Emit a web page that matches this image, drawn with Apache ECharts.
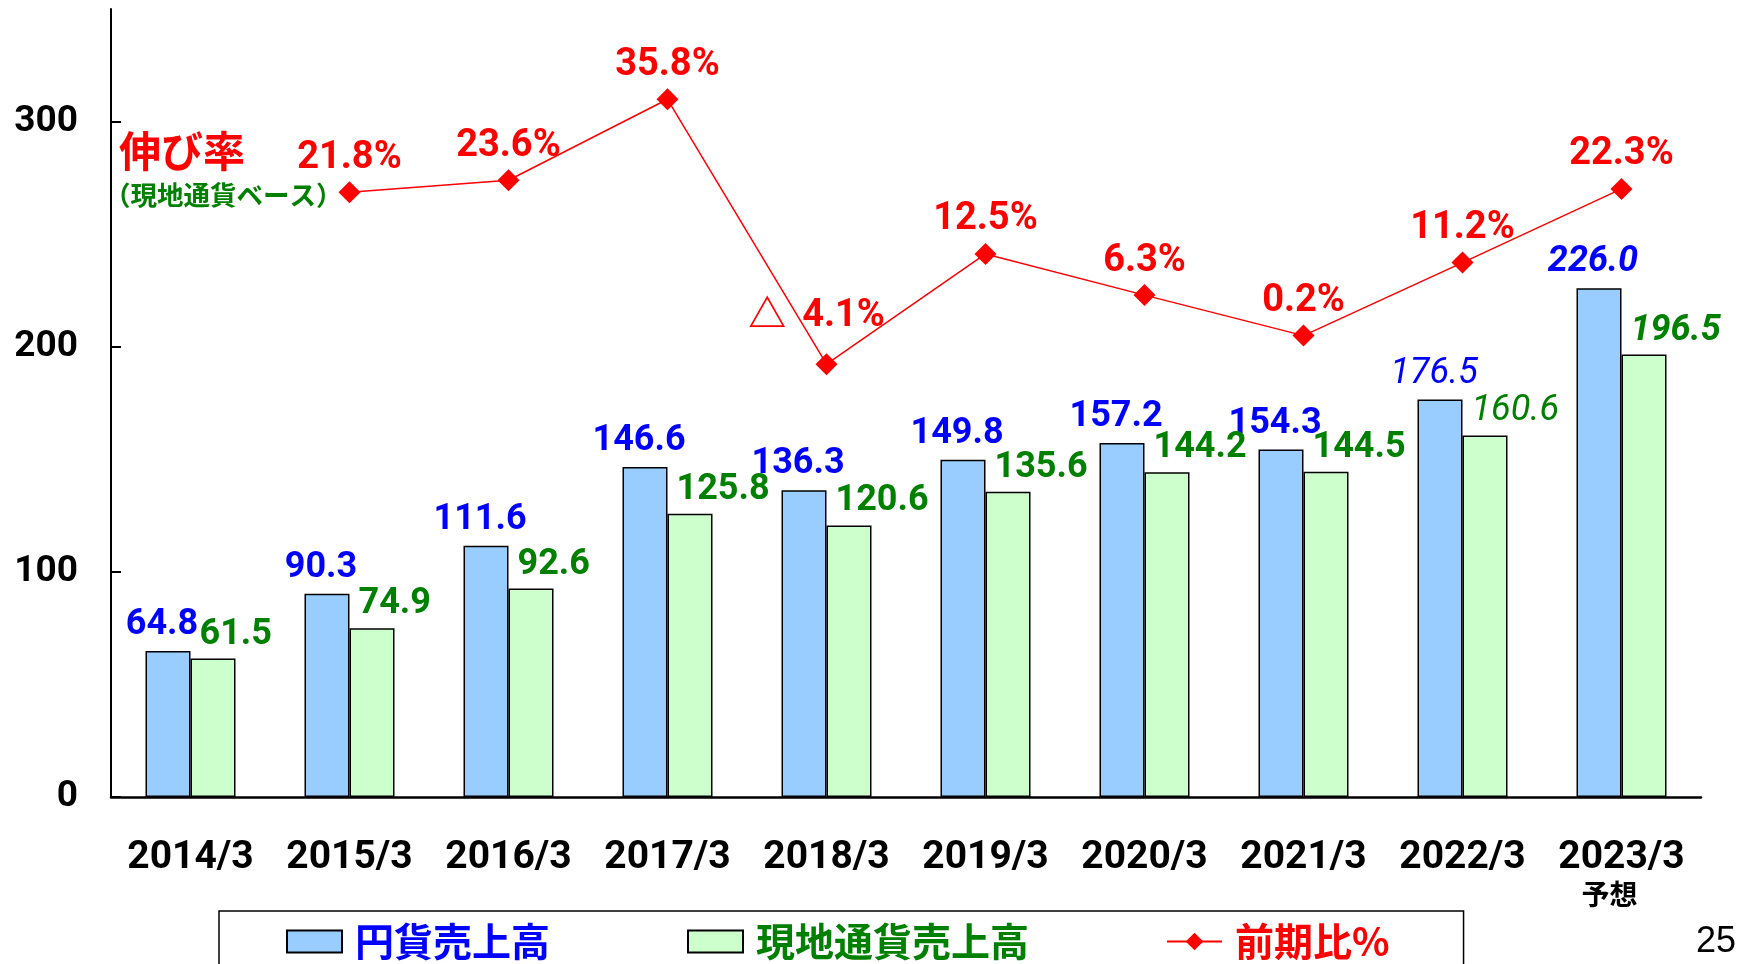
<!DOCTYPE html>
<html>
<head>
<meta charset="utf-8">
<script src="https://cdn.jsdelivr.net/npm/echarts@6/dist/echarts.min.js"></script>
<style>
html, body { margin: 0; padding: 0; background: #fff; }
#main { width: 1740px; height: 964px; }
</style>
</head>
<body>
<div id="main"></div>
<script>
// 決算期
var categories = ['2014/3', '2015/3', '2016/3', '2017/3', '2018/3', '2019/3', '2020/3', '2021/3', '2022/3', '2023/3'];
var subLabels = ['', '', '', '', '', '', '', '', '', '予想'];
// 円貨売上高
var yenSales = [64.8, 90.3, 111.6, 146.6, 136.3, 149.8, 157.2, 154.3, 176.5, 226.0];
// 現地通貨売上高
var localSales = [61.5, 74.9, 92.6, 125.8, 120.6, 135.6, 144.2, 144.5, 160.6, 196.5];
// 前期比% (現地通貨ベース)
var growthRate = [null, 21.8, 23.6, 35.8, -4.1, 12.5, 6.3, 0.2, 11.2, 22.3];
var yTicks = [0, 100, 200, 300];

var NUM_FONT = 'Roboto, "Noto Sans CJK JP", sans-serif';
var JP_FONT = '"Noto Sans CJK JP", sans-serif';

var myChart = echarts.init(document.getElementById('main'));

// 予想の年だけ斜体
function labelStyle(i) {
    if (i === categories.length - 1) return { fontStyle: 'italic', fontWeight: 'bold' };
    if (i === categories.length - 2) return { fontStyle: 'italic', fontWeight: 'normal' };
    return {};
}

var yenData = yenSales.map(function (v, i) {
    return { value: v, label: labelStyle(i) };
});
var localData = localSales.map(function (v, i) {
    return { value: v, label: labelStyle(i) };
});
// マイナスは△表示、ラベルを少し左上に
var growthData = growthRate.map(function (v) {
    if (v !== null && v < 0) return { value: v, label: { offset: [-10, -10] } };
    return v;
});

var option = {
    backgroundColor: '#fff',
    animation: false,
    grid: {
        left: 111,
        right: 39,
        top: 9,
        bottom: 167
    },
    legend: {
        left: 219,
        top: 911,
        orient: 'horizontal',
        borderColor: '#000',
        borderWidth: 1.5,
        padding: [11, 74, 40, 67],
        itemGap: 137,
        itemWidth: 55,
        itemHeight: 22,
        textStyle: {
            fontFamily: JP_FONT,
            fontWeight: 'bold',
            fontSize: 39,
            padding: [0, 0, 0, 8]
        },
        data: [
            { name: '円貨売上高', icon: 'rect', textStyle: { color: '#0000FF' } },
            { name: '現地通貨売上高', icon: 'rect', textStyle: { color: '#008000' } },
            { name: '前期比%', textStyle: { color: '#FF0000' } }
        ]
    },
    xAxis: {
        type: 'category',
        data: categories,
        axisLine: { lineStyle: { color: '#000', width: 2.5 } },
        axisTick: { inside: true, length: 12, lineStyle: { color: '#000', width: 1.5 } },
        axisLabel: {
            margin: 41,
            formatter: function (value, idx) {
                if (subLabels[idx]) return '{a|' + value + '}\n{b|' + subLabels[idx] + '}';
                return '{a|' + value + '}';
            },
            rich: {
                a: { fontFamily: NUM_FONT, fontWeight: 'bold', fontSize: 39, color: '#000', lineHeight: 40 },
                b: { fontFamily: JP_FONT, fontWeight: 'bold', fontSize: 28, color: '#000', lineHeight: 32, padding: [0, 24, 0, 0] }
            }
        }
    },
    yAxis: [{
        type: 'value',
        min: 0,
        max: 350,
        interval: 100,
        splitLine: { show: false },
        axisLine: { show: true, lineStyle: { color: '#000', width: 2 } },
        axisTick: { show: true, inside: true, length: 10, customValues: yTicks, lineStyle: { color: '#000', width: 2 } },
        axisLabel: {
            customValues: yTicks,
            margin: 33,
            color: '#000',
            fontFamily: NUM_FONT,
            fontWeight: 'bold',
            fontSize: 37
        }
    }, {
        type: 'value',
        show: false,
        min: -69.3,
        max: 49.4,
        splitLine: { show: false }
    }],
    graphic: [{
        type: 'text',
        left: 119,
        top: 130,
        style: { text: '伸び率', fill: '#FF0000', font: 'bold 42px "Noto Sans CJK JP"' }
    }, {
        type: 'text',
        left: 104,
        top: 182,
        style: { text: '（現地通貨ベース）', fill: '#008000', font: 'bold 26.5px "Noto Sans CJK JP"' }
    }, {
        type: 'text',
        left: 1696,
        top: 924,
        style: { text: '25', fill: '#000', font: '36px "Liberation Sans"' }
    }],
    series: [{
        name: '円貨売上高',
        type: 'bar',
        data: yenData,
        barWidth: 45,
        barGap: '0%',
        itemStyle: { color: '#99CCFF', borderColor: '#000', borderWidth: 1.5 },
        label: {
            show: true,
            position: 'top',
            distance: 8,
            offset: [-6, 0],
            color: '#0000FF',
            fontFamily: NUM_FONT,
            fontWeight: 'bold',
            fontSize: 36,
            formatter: function (p) { return p.value.toFixed(1); }
        }
    }, {
        name: '現地通貨売上高',
        type: 'bar',
        data: localData,
        barWidth: 45,
        itemStyle: { color: '#CCFFCC', borderColor: '#000', borderWidth: 1.5 },
        label: {
            show: true,
            position: [9, -6],
            align: 'left',
            verticalAlign: 'bottom',
            color: '#008000',
            fontFamily: NUM_FONT,
            fontWeight: 'bold',
            fontSize: 36,
            formatter: function (p) { return p.value.toFixed(1); }
        }
    }, {
        name: '前期比%',
        type: 'line',
        yAxisIndex: 1,
        data: growthData,
        symbol: 'diamond',
        symbolSize: 22,
        itemStyle: { color: '#FF0000' },
        lineStyle: { color: '#FF0000', width: 1.5 },
        label: {
            show: true,
            position: 'top',
            distance: 4,
            color: '#FF0000',
            fontFamily: NUM_FONT,
            fontWeight: 'bold',
            fontSize: 38,
            formatter: function (p) {
                if (p.value < 0) return '{t|△}' + Math.abs(p.value).toFixed(1) + '%';
                return p.value.toFixed(1) + '%';
            },
            rich: {
                t: { fontFamily: JP_FONT, fontSize: 38, color: '#FF0000', padding: [0, 16, 8, 0] }
            }
        }
    }]
};

myChart.setOption(option);
</script>
</body>
</html>
